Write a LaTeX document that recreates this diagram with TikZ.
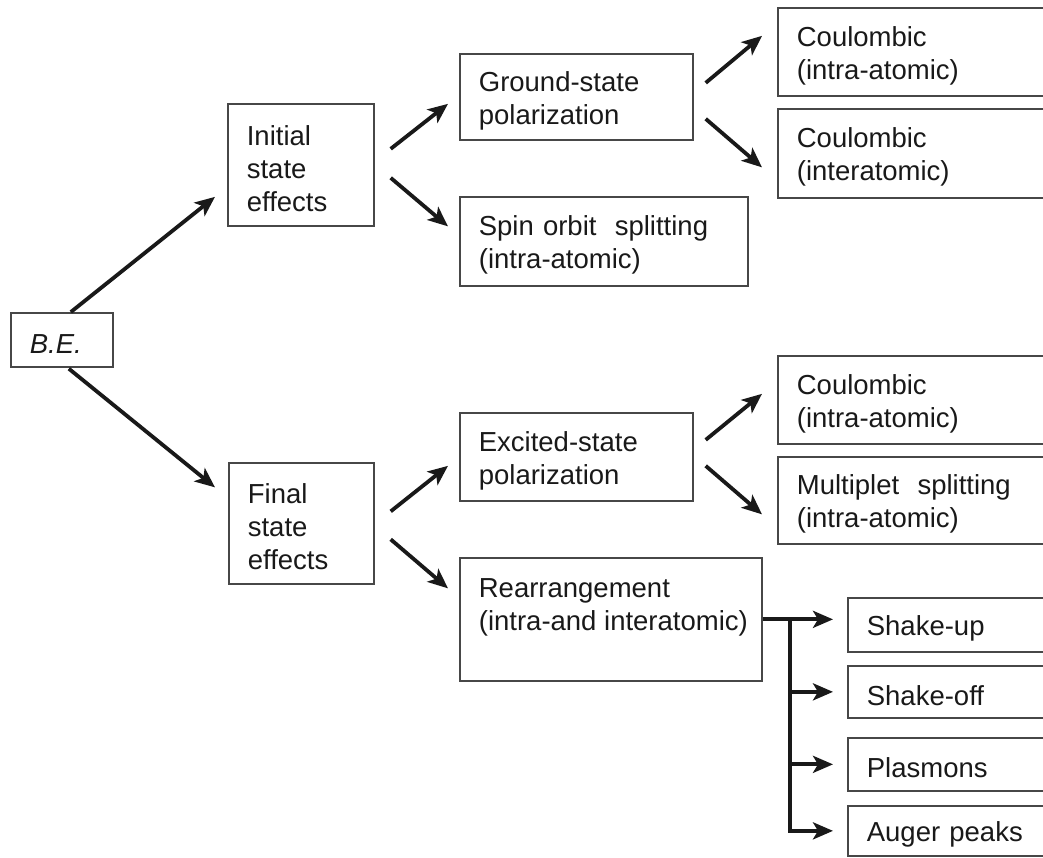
\documentclass[tikz,border=0pt]{standalone}
\usepackage{fontspec}
\setmainfont{Liberation Sans}
\usetikzlibrary{arrows.meta}
\newcommand\boxfont{\fontsize{27.5}{33}\selectfont}

\tikzset{
  box/.style={draw=black!72, line width=1.7pt, anchor=north west, inner xsep=19pt,
    inner ysep=0pt, align=left, text=black!90, font=\boxfont,
    execute at begin node={\rule{0pt}{27pt}}},
  arr/.style={line width=3.8pt, draw=black!90, -{Stealth[length=20pt,width=17pt,inset=5pt]}},
}

\begin{document}
\begin{tikzpicture}[x=1pt,y=-1pt]
    \useasboundingbox (0,0) rectangle (1043,857);
    \clip (0,0) rectangle (1043,857);
    % left
    \node[box, text width=64pt, minimum height=54pt] (be) at (10,312) {\itshape B.E.};
    \node[box, text width=108pt, minimum height=122pt] (init) at (227,103) {Initial\\state\\effects};
    \node[box, text width=107pt, minimum height=121pt] (fin) at (228,462) {Final\\state\\effects};
    % middle
    \node[box, text width=195pt, minimum height=86pt] (gsp) at (459,53) {Ground-state\\polarization};
    \node[box, text width=250pt, minimum height=89pt] (spin) at (459,196) {Spin orbit~ splitting\\(intra-atomic)};
    \node[box, text width=195pt, minimum height=88pt] (esp) at (459,412) {Excited-state\\polarization};
    \node[box, minimum height=123pt] (rear) at (459,557)
      {\parbox[c][81pt][t]{264pt}{Rearrangement\\\mbox{(intra-and interatomic)}}};
    % right, cut off by the page edge
    \foreach \nm/\y/\h/\txt in {coul1/7/88/{Coulombic\\(intra-atomic)},
                                coul2/108/89/{Coulombic\\(interatomic)},
                                coul3/355/88/{Coulombic\\(intra-atomic)},
                                mult/456/87/{Multiplet~ splitting\\(intra-atomic)}} {
      \node[box, text width=262pt, minimum height=\h pt] (\nm) at (777,\y) {\txt};
    }
    \foreach \nm/\y/\h/\txt in {shup/597/54/Shake-up, shoff/665/52/Shake-off,
                                plas/737/53/Plasmons, aug/805/50/Auger peaks} {
      \node[box, text width=212pt, minimum height=\h pt] (\nm) at (847,\y) {\txt};
    }

    \draw[arr] ([shift={(9,0)}]be.north) -- ([shift={(-12,32)}]init.west);
    \draw[arr] ([shift={(7,1)}]be.south) -- ([shift={(-13,-36)}]fin.west);
    \draw[arr] ([shift={(16,-16)}]init.east) -- ([shift={(-11,7)}]gsp.west);
    \draw[arr] ([shift={(16,13)}]init.east) -- ([shift={(-11,-15)}]spin.west);
    \draw[arr] ([shift={(16,-12)}]fin.east) -- ([shift={(-11,9)}]esp.west);
    \draw[arr] ([shift={(16,16)}]fin.east) -- ([shift={(-11,-31)}]rear.west);
    \draw[arr] ([shift={(12,-14)}]gsp.east) -- ([shift={(-15,-16)}]coul1.west);
    \draw[arr] ([shift={(12,22)}]gsp.east) -- ([shift={(-15,14)}]coul2.west);
    \draw[arr] ([shift={(12,-17)}]esp.east) -- ([shift={(-15,-6)}]coul3.west);
    \draw[arr] ([shift={(12,9)}]esp.east) -- ([shift={(-15,14)}]mult.west);

    % fork after rearrangement
    \coordinate (fork) at ([xshift=27pt]rear.east);
    \draw[arr, shorten >=14pt] (rear.east) -- (rear.east -| shup.west);
    \foreach \nm in {shoff,plas} {
      \draw[arr, shorten >=14pt] (fork |- \nm.west) -- (\nm.west);
    }
    \draw[arr, shorten >=14pt] (fork) |- (aug.west);
\end{tikzpicture}
\end{document}
